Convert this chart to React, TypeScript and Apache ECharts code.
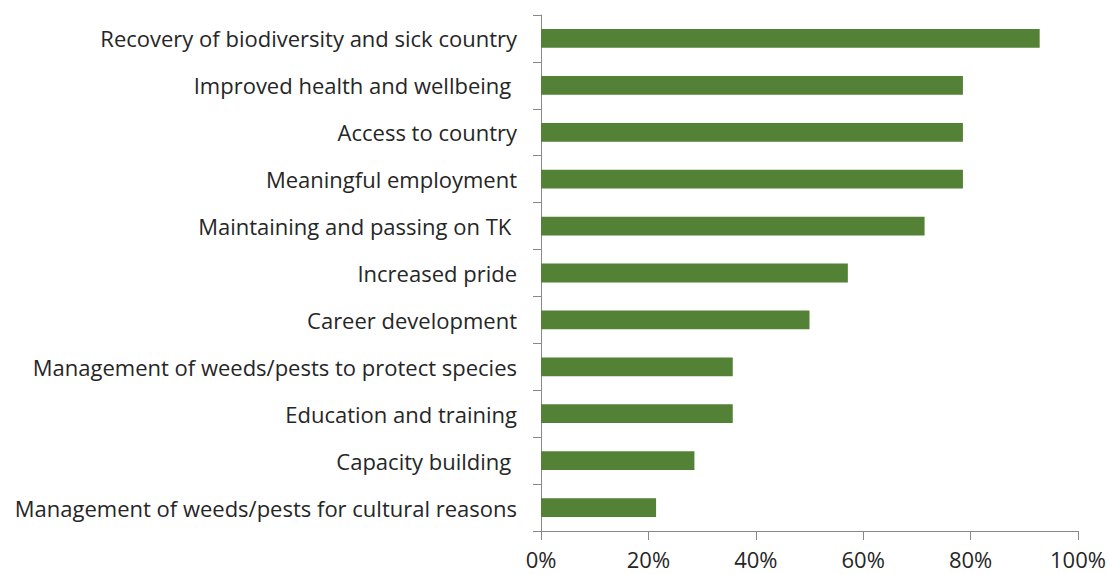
import React, { useEffect, useRef } from "react";
import * as echarts from "echarts";

const categories = [
  "Recovery of biodiversity and sick country",
  "Improved health and wellbeing ",
  "Access to country",
  "Meaningful employment",
  "Maintaining and passing on TK ",
  "Increased pride",
  "Career development",
  "Management of weeds/pests to protect species",
  "Education and training",
  "Capacity building ",
  "Management of weeds/pests for cultural reasons",
];
const values = [92.86, 78.57, 78.57, 78.57, 71.43, 57.14, 50.0, 35.71, 35.71, 28.57, 21.43];
const xTicks = { min: 0, max: 100, interval: 20 };

const FONT = "Open Sans";
const AXIS = "#898989";
const TEXT = "#262626";

export default function App() {
  const ref = useRef<HTMLDivElement>(null);
  useEffect(() => {
    if (!ref.current) return;
    const chart = echarts.init(ref.current, null, { renderer: "svg" });
    chart.setOption({
      animation: false,
      backgroundColor: "#ffffff",
      grid: { left: 541, right: 32, top: 15, bottom: 43, containLabel: false },
      xAxis: {
        type: "value",
        min: xTicks.min,
        max: xTicks.max,
        interval: xTicks.interval,
        axisLine: { show: true, lineStyle: { color: AXIS, width: 1 } },
        axisTick: { show: true, length: 9, lineStyle: { color: AXIS } },
        splitLine: { show: false },
        axisLabel: {
          formatter: "{value}%",
          color: TEXT,
          fontFamily: FONT,
          fontSize: 22,
          lineHeight: 18,
          margin: 19,
        },
      },
      yAxis: {
        type: "category",
        data: categories,
        inverse: true,
        axisLine: { show: true, lineStyle: { color: AXIS, width: 1 } },
        axisTick: { show: true, length: 8, lineStyle: { color: AXIS } },
        axisLabel: {
          color: TEXT,
          fontFamily: FONT,
          fontSize: 22,
          margin: 24,
        },
      },
      series: [
        {
          type: "bar",
          data: values,
          barCategoryGap: "60%",
          itemStyle: { color: "#538135" },
        },
      ],
    });
    return () => chart.dispose();
  }, []);
  return <div ref={ref} style={{ width: 1110, height: 574, position: "absolute", left: 0, top: 0 }} />;
}
